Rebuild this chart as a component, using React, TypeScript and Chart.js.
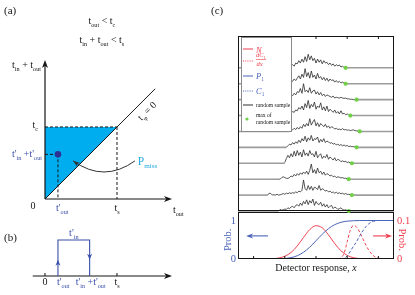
import { useEffect, useRef } from "react";
import { Chart, registerables } from "chart.js";
Chart.register(...registerables);

// ---------------- Panel (a)/(b) schematic values (time, t_s = 1) ----------------
const T_S = 1;
const T_C = 1;
const T_OUT_P = 0.18;
const T_IN_P = 0.44;
const A_X_MIN = -0.25;
const A_X_END = 1.764;
const A_Y_END = 1.93;
const PHI_LINE_END = 1.53;
const B_X_START = -0.17;
const MISS_FROM = [1.25, 0.53];
const MISS_VIA = [0.82, 0.22];
const MISS_TO = [0.39, 0.53];

// ---------------- Panel (c) ----------------
const X_MIN = -5;
const X_MAX = 45;
const X_TICKS = [0, 10, 20, 30, 40];
const SAMPLE_STEP = 0.5;
const SAMPLE_BASE = [9, 8, 7, 6, 5, 4, 3, 2, 1, 0];
const SAMPLE_START = [12, 11.5, 11.5, 12, 11.5, 10.5, 10, 8.5, 4.5, 8];
const S1 = [0.15,0.2,0.1,0.3,0.25,0.45,0.3,0.55,0.35,0.7,0.4,0.85,0.5,0.75,0.45,0.6,0.3,0.55,0.35,0.5,0.25,0.45,0.3,0.35,0.2,0.3,0.15,0.25,0.1,0.2,0.12,0.18,0.05,0.1,0.02,0];
const S2 = [0.1,0.2,0.15,0.3,0.2,0.35,0.5,0.3,0.6,0.4,0.95,0.45,0.7,0.35,0.8,0.4,0.55,0.3,0.65,0.35,0.45,0.25,0.4,0.2,0.35,0.15,0.3,0.2,0.25,0.1,0.2,0.08,0.15,0.05,0.1,0.03,0];
const S3 = [0.2,0.3,0.25,0.4,0.3,0.5,0.45,0.7,0.4,1.0,0.5,0.6,0.45,0.75,0.4,0.55,0.6,0.35,0.5,0.3,0.45,0.25,0.35,0.2,0.3,0.25,0.2,0.15,0.22,0.1,0.15,0.12,0.1,0.15,0.1,0.08,0.1,0.05,0.05,0.02,0.03,0,0,0];
const S4 = [0.15,0.25,0.2,0.35,0.3,0.5,0.4,0.6,0.35,0.75,0.5,0.95,0.45,0.7,0.55,0.85,0.4,0.6,0.5,0.8,0.35,0.55,0.3,0.6,0.25,0.4,0.3,0.2,0.35,0.15,0.25,0.1,0.3,0.1,0.15,0.05,0.1,0.02,0];
const S5 = [0.05,0.15,0.1,0.2,0.12,0.25,0.15,0.3,0.2,0.45,0.3,0.5,0.35,0.8,0.4,0.6,0.75,0.35,0.55,0.3,0.5,0.4,0.3,0.45,0.25,0.35,0.2,0.3,0.25,0.15,0.2,0.12,0.15,0.1,0.18,0.1,0.12,0.08,0.1,0.05,0.08,0.1,0.05,0.04,0.02,0];
const S6 = [0,0.1,0.2,0.15,0.3,0.2,0.35,0.25,0.45,0.3,0.55,0.4,0.7,0.35,0.6,0.45,0.75,0.4,0.55,0.5,0.65,0.3,0.5,0.35,0.55,0.3,0.4,0.35,0.25,0.3,0.2,0.25,0.15,0.2,0.12,0.18,0.1,0.15,0.08,0.12,0.05,0.08,0.04,0.05,0.02,0];
const S7 = [0.05,0.3,0.5,0.35,0.6,0.4,0.75,0.45,0.8,0.5,0.7,0.4,0.85,0.5,0.65,0.45,0.8,0.55,0.6,0.4,0.75,0.35,0.5,0.6,0.3,0.45,0.35,0.55,0.25,0.4,0.3,0.2,0.35,0.15,0.25,0.2,0.1,0.15,0.1,0.12,0.05,0.08,0.02,0];
const S8 = [0,0.1,0.15,0.1,0.05,0.05,0.1,0.2,0.15,0.3,0.2,0.35,0.25,0.4,0.3,0.45,0.35,0.5,0.3,0.55,0.95,0.4,0.6,0.35,0.7,0.4,0.5,0.3,0.45,0.25,0.35,0.3,0.2,0.25,0.15,0.2,0.1,0.15,0.12,0.08,0.1,0.05,0.06,0.02,0];
const S9 = [0,0.12,0.1,0,0.02,0,0.05,0,0.02,0.05,0.1,0.05,0.12,0.08,0.15,0.1,0.15,0.12,0.2,0.15,0.25,0.2,0.3,0.95,0.4,0.3,0.6,0.35,0.55,0.3,0.5,0.45,0.35,0.6,0.3,0.4,0.35,0.25,0.3,0.2,0.25,0.15,0.2,0.12,0.18,0.1,0.15,0.08,0.12,0.05,0.1,0.04,0.05,0.02,0];
const S10 = [0,0.1,0.05,0.08,0.12,0.1,0.2,0.15,0.25,0.3,0.2,0.35,0.4,0.3,0.5,0.35,0.6,0.45,0.7,0.4,0.65,0.5,0.75,0.35,0.6,0.45,0.4,0.55,0.3,0.45,0.25,0.4,0.2,0.3,0.35,0.15,0.25,0.2,0.1,0.15,0.2,0.1,0.05,0.08,0.02,0];
const SAMPLES = [S1, S2, S3, S4, S5, S6, S7, S8, S9, S10];

const N_X = [-5, 2, 6, 8, 10, 12, 14, 16, 18, 20, 22, 24, 26, 28, 30, 32, 34, 36, 40, 45];
const N_PDF = [0, 0, 0.0007, 0.0024, 0.0071, 0.017, 0.0339, 0.056, 0.0765, 0.0865, 0.081, 0.0627, 0.0402, 0.0214, 0.0094, 0.0034, 0.001, 0.0003, 0, 0];
const P1_CDF = [0, 0, 0.001, 0.004, 0.0125, 0.036, 0.085, 0.175, 0.309, 0.474, 0.644, 0.788, 0.892, 0.953, 0.983, 0.9945, 0.9986, 1, 1, 1];
const DC_X = [27, 28, 29, 30, 31, 32, 33, 34, 35, 36, 37, 38, 39, 40, 41];
const DC_PDF = [0, 0.003, 0.015, 0.045, 0.075, 0.087, 0.083, 0.07, 0.053, 0.036, 0.022, 0.012, 0.005, 0.002, 0];
const C1_X = [28, 29, 30, 31, 32, 33, 34, 35, 36, 37, 38, 39, 40, 45];
const C1_CDF = [0, 0.02, 0.08, 0.2, 0.33, 0.45, 0.6, 0.73, 0.84, 0.92, 0.97, 0.99, 1, 1];
const PROB_L_MAX = 1.221;
const PROB_R_MAX = 0.1221;
const ARROW_Y = 0.6;
const LEFT_ARROW = [4.6, -2.4];
const RIGHT_ARROW = [38.3, 44.4];

// ---------------- styling ----------------
const SERIF = '"Liberation Serif", "Times New Roman", serif';
const INK = "#151515";
const FILL_BLUE = "#00aeef";
const DOT_BLUE = "#2e3192";
const TXT_BLUE = "#3a4fa8";
const MISS_C = "#29abe2";
const RED = "#ee3f4e";
const BLUE = "#4a62b8";
const GREEN = "#6fcf45";
const GRAY = "#9c9c9c";

type Seg = { t: string; s?: "sub" | "sup"; i?: boolean };

function rich(ctx: any, segs: Seg[], x: number, y: number, size: number, color: string, align = "left") {
  ctx.save();
  ctx.fillStyle = color;
  ctx.textBaseline = "alphabetic";
  ctx.textAlign = "left";
  const fonts = segs.map((g) => `${g.i ? "italic " : ""}${g.s ? size * 0.62 : size}px ${SERIF}`);
  const widths = segs.map((g, k) => {
    ctx.font = fonts[k];
    return ctx.measureText(g.t).width;
  });
  const total = widths.reduce((a, b) => a + b, 0);
  let cx = align === "left" ? x : align === "center" ? x - total / 2 : x - total;
  segs.forEach((g, k) => {
    ctx.font = fonts[k];
    const dy = g.s === "sub" ? size * 0.28 : g.s === "sup" ? -size * 0.4 : 0;
    ctx.fillText(g.t, cx, y + dy);
    cx += widths[k];
  });
  ctx.restore();
}

function arrowHead(ctx: any, x: number, y: number, angle: number, len: number, wid: number, color: string) {
  ctx.save();
  ctx.translate(x, y);
  ctx.rotate(angle);
  ctx.beginPath();
  ctx.moveTo(0, 0);
  ctx.lineTo(-len, wid / 2);
  ctx.lineTo(-len * 0.72, 0);
  ctx.lineTo(-len, -wid / 2);
  ctx.closePath();
  ctx.fillStyle = color;
  ctx.fill();
  ctx.restore();
}

function seg(ctx: any, x1: number, y1: number, x2: number, y2: number, color: string, w = 1, dash: number[] = []) {
  ctx.save();
  ctx.strokeStyle = color;
  ctx.lineWidth = w;
  ctx.setLineDash(dash);
  ctx.beginPath();
  ctx.moveTo(x1, y1);
  ctx.lineTo(x2, y2);
  ctx.stroke();
  ctx.restore();
}

const ln = (data: any[], style: any = {}) => ({
  data,
  showLine: true,
  pointRadius: 0,
  clip: false,
  borderWidth: 1,
  borderColor: INK,
  tension: 0,
  fill: false,
  ...style,
});

const baseOptions = (scales: any, padding: any) => ({
  responsive: false,
  animation: false,
  events: [],
  layout: { padding },
  plugins: { legend: { display: false }, tooltip: { enabled: false } },
  scales,
});

function configA(): any {
  const sum = T_OUT_P + T_IN_P;
  const dashed = { borderColor: INK, borderDash: [3, 2] };
  return {
    type: "line",
    data: {
      datasets: [
        { data: [{ x: T_OUT_P, y: sum }], showLine: false, pointRadius: 3.3, pointBackgroundColor: DOT_BLUE, pointBorderWidth: 0, clip: false, order: 0 },
        ln([{ x: 0, y: sum }, { x: T_OUT_P, y: sum }], { ...dashed, order: 1 }),
        ln([{ x: T_OUT_P, y: sum }, { x: T_OUT_P, y: 0 }], { ...dashed, order: 1 }),
        ln([{ x: 0, y: T_C }, { x: T_S, y: T_C }], { ...dashed, order: 1 }),
        ln([{ x: T_S, y: T_C }, { x: T_S, y: 0 }], { ...dashed, order: 1 }),
        ln([{ x: 0, y: 0 }, { x: PHI_LINE_END, y: PHI_LINE_END }], { order: 2 }),
        ln([{ x: 0, y: 0 }, { x: A_X_END - 0.05, y: 0 }], { borderWidth: 1.2, order: 2 }),
        ln([{ x: 0, y: 0 }, { x: 0, y: A_Y_END - 0.05 }], { borderWidth: 1.2, order: 2 }),
        ln([{ x: 0, y: 0 }, { x: 0, y: T_C }, { x: T_C, y: T_C }, { x: 0, y: 0 }], { borderWidth: 0, fill: "shape", backgroundColor: FILL_BLUE, order: 9 }),
      ],
    },
    options: baseOptions(
      { x: { type: "linear", display: false, min: A_X_MIN, max: A_X_END }, y: { type: "linear", display: false, min: 0, max: A_Y_END } },
      { left: 27, right: 38, top: 60, bottom: 31 }
    ),
    plugins: [
      {
        id: "decoA",
        afterDatasetsDraw(chart: any) {
          const ctx = chart.ctx;
          const X = (v: number) => chart.scales.x.getPixelForValue(v);
          const Y = (v: number) => chart.scales.y.getPixelForValue(v);
          const sum = T_OUT_P + T_IN_P;
          arrowHead(ctx, X(A_X_END), Y(0), 0, 8, 6, INK);
          arrowHead(ctx, X(0), Y(A_Y_END), -Math.PI / 2, 8, 6, INK);
          // curved arrow from P_miss
          const p0 = [X(MISS_FROM[0]), Y(MISS_FROM[1])];
          const c = [X(MISS_VIA[0]), Y(MISS_VIA[1])];
          const p2 = [X(MISS_TO[0]), Y(MISS_TO[1])];
          ctx.save();
          ctx.strokeStyle = "#333";
          ctx.lineWidth = 1;
          ctx.beginPath();
          ctx.moveTo(p0[0], p0[1]);
          ctx.quadraticCurveTo(c[0], c[1], p2[0], p2[1]);
          ctx.stroke();
          ctx.restore();
          arrowHead(ctx, p2[0], p2[1], Math.atan2(p2[1] - c[1], p2[0] - c[0]), 7, 5, "#333");
          // texts
          rich(ctx, [{ t: "(a)" }], 4, 14, 11, INK);
          rich(ctx, [{ t: "t" }, { t: "out", s: "sub" }, { t: " < t" }, { t: "c", s: "sub" }], X(0.79), 24, 10, INK, "center");
          rich(ctx, [{ t: "t" }, { t: "in", s: "sub" }, { t: " + t" }, { t: "out", s: "sub" }, { t: " < t" }, { t: "s", s: "sub" }], X(0.79), 43, 10, INK, "center");
          rich(ctx, [{ t: "t" }, { t: "in", s: "sub" }, { t: " + t" }, { t: "out", s: "sub" }], X(0) - 4, Y(1.82), 10, INK, "right");
          rich(ctx, [{ t: "t" }, { t: "c", s: "sub" }], X(0) - 7, Y(T_C) + 1, 10, INK, "right");
          rich(ctx, [{ t: "t'" }, { t: "in", s: "sub" }, { t: " +t'" }, { t: "out", s: "sub" }], X(0) - 3, Y(sum) + 3, 10, TXT_BLUE, "right");
          rich(ctx, [{ t: "0" }], X(0) - 12, Y(0) + 10, 10, INK, "center");
          rich(ctx, [{ t: "t'" }, { t: "out", s: "sub" }], X(T_OUT_P) - 2, Y(0) + 12, 10, TXT_BLUE, "left");
          rich(ctx, [{ t: "t" }, { t: "s", s: "sub" }], X(T_S), Y(0) + 12, 10, INK, "center");
          rich(ctx, [{ t: "t" }, { t: "out", s: "sub" }], X(A_X_END) + 1, Y(0) + 14, 10, INK, "left");
          ctx.save();
          ctx.translate(X(1.42), Y(1.22));
          ctx.rotate(-Math.PI / 4);
          rich(ctx, [{ t: "t" }, { t: "φ", s: "sub" }, { t: " = 0" }], 0, 3, 10, INK, "center");
          ctx.restore();
          rich(ctx, [{ t: "P" }, { t: "miss", s: "sub" }], X(1.29), Y(0.47), 11.5, MISS_C, "left");
        },
      },
    ],
  };
}

function configB(): any {
  const sum = T_OUT_P + T_IN_P;
  return {
    type: "line",
    data: {
      datasets: [
        ln([{ x: T_OUT_P, y: 0 }, { x: T_OUT_P, y: 1 }, { x: sum, y: 1 }, { x: sum, y: 0 }], { borderColor: TXT_BLUE, borderWidth: 1.1, order: 0 }),
        ln([{ x: B_X_START, y: 0 }, { x: A_X_END - 0.05, y: 0 }], { borderWidth: 1.2, order: 1 }),
      ],
    },
    options: baseOptions(
      { x: { type: "linear", display: false, min: A_X_MIN, max: A_X_END }, y: { type: "linear", display: false, min: 0, max: 1 } },
      { left: 27, right: 38, top: 15, bottom: 19 }
    ),
    plugins: [
      {
        id: "decoB",
        afterDatasetsDraw(chart: any) {
          const ctx = chart.ctx;
          const X = (v: number) => chart.scales.x.getPixelForValue(v);
          const Y = (v: number) => chart.scales.y.getPixelForValue(v);
          arrowHead(ctx, X(A_X_END), Y(0), 0, 8, 6, INK);
          seg(ctx, X(0), Y(0), X(0), Y(0) - 3, INK);
          seg(ctx, X(T_S), Y(0), X(T_S), Y(0) - 3, INK);
          arrowHead(ctx, X(T_OUT_P), Y(0.45), -Math.PI / 2, 6, 5, TXT_BLUE);
          arrowHead(ctx, X(sum), Y(0.45), Math.PI / 2, 6, 5, TXT_BLUE);
          rich(ctx, [{ t: "(b)" }], 4, 16, 11, INK);
          rich(ctx, [{ t: "t'" }, { t: "in", s: "sub" }], X(T_OUT_P + T_IN_P / 2), Y(1) - 4, 10, TXT_BLUE, "center");
          rich(ctx, [{ t: "0" }], X(0), Y(0) + 9, 10, INK, "center");
          rich(ctx, [{ t: "t'" }, { t: "out", s: "sub" }], X(T_OUT_P) - 1, Y(0) + 9, 10, TXT_BLUE, "left");
          rich(ctx, [{ t: "t'" }, { t: "in", s: "sub" }, { t: " +t'" }, { t: "out", s: "sub" }], X(sum) + 1, Y(0) + 9, 10, TXT_BLUE, "center");
          rich(ctx, [{ t: "t" }, { t: "s", s: "sub" }], X(T_S), Y(0) + 9, 10, INK, "center");
        },
      },
    ],
  };
}

function frame(chart: any) {
  const ctx = chart.ctx;
  const ca = chart.chartArea;
  ctx.save();
  ctx.strokeStyle = INK;
  ctx.lineWidth = 1;
  ctx.strokeRect(Math.round(ca.left) + 0.5, Math.round(ca.top) + 0.5, Math.round(ca.right - ca.left) - 1, Math.round(ca.bottom - ca.top) - 1);
  ctx.restore();
}

function configCTop(): any {
  const datasets: any[] = [];
  datasets.push({
    data: SAMPLES.map((s, i) => ({ x: SAMPLE_START[i] + (s.length - 1) * SAMPLE_STEP, y: SAMPLE_BASE[i] })),
    showLine: false,
    pointRadius: 2.1,
    pointBackgroundColor: GREEN,
    pointBorderWidth: 0,
    clip: false,
    order: 0,
  });
  SAMPLES.forEach((s, i) => {
    datasets.push(ln(s.map((v, j) => ({ x: SAMPLE_START[i] + j * SAMPLE_STEP, y: SAMPLE_BASE[i] + v })), { borderColor: "#2a2a2a", borderWidth: 0.8, order: 1 }));
  });
  SAMPLES.forEach((s, i) => {
    const end = SAMPLE_START[i] + (s.length - 1) * SAMPLE_STEP;
    datasets.push(ln([{ x: X_MIN, y: SAMPLE_BASE[i] }, { x: SAMPLE_START[i], y: SAMPLE_BASE[i] }], { borderColor: GRAY, borderWidth: 1.6, order: 2 }));
    datasets.push(ln([{ x: end, y: SAMPLE_BASE[i] }, { x: X_MAX, y: SAMPLE_BASE[i] }], { borderColor: GRAY, borderWidth: 1.6, order: 2 }));
  });
  return {
    type: "line",
    data: { datasets },
    options: baseOptions(
      { x: { type: "linear", display: false, min: X_MIN, max: X_MAX }, y: { type: "linear", display: false, min: 0, max: 11 } },
      { left: 28, right: 21, top: 36, bottom: 3 }
    ),
    plugins: [
      {
        id: "decoCT",
        afterDatasetsDraw(chart: any) {
          const ctx = chart.ctx;
          const ca = chart.chartArea;
          const X = (v: number) => chart.scales.x.getPixelForValue(v);
          frame(chart);
          X_TICKS.forEach((t) => seg(ctx, X(t), ca.top, X(t), ca.top + 3, INK));
          rich(ctx, [{ t: "(c)" }], 1, 14, 11, INK);
          // legend
          const L = ca.left;
          ctx.save();
          ctx.fillStyle = "#fff";
          ctx.fillRect(L + 3, ca.top + 1, 50, 94);
          ctx.strokeStyle = "#8a8a8a";
          ctx.lineWidth = 1;
          ctx.strokeRect(L + 3.5, ca.top + 1.5, 50, 94);
          ctx.restore();
          const x1 = L + 5, x2 = L + 15, tx = L + 18;
          seg(ctx, x1, 49, x2, 49, RED, 1);
          rich(ctx, [{ t: "N", i: true }], tx, 52.5, 8.5, RED);
          seg(ctx, x1, 61, x2, 61, RED, 1, [1, 1.2]);
          rich(ctx, [{ t: "dC", i: true }, { t: "1", s: "sub" }], tx, 57, 6.5, RED);
          seg(ctx, tx, 59.5, tx + 10, 59.5, RED, 0.6);
          rich(ctx, [{ t: "dx", i: true }], tx + 0.5, 65.5, 6.5, RED);
          seg(ctx, x1, 76, x2, 76, BLUE, 1);
          rich(ctx, [{ t: "P", i: true }, { t: "1", s: "sub" }], tx, 79, 8.5, BLUE);
          seg(ctx, x1, 91, x2, 91, BLUE, 1, [1, 1.2]);
          rich(ctx, [{ t: "C", i: true }, { t: "1", s: "sub" }], tx, 94, 8.5, BLUE);
          seg(ctx, x1, 105, x2, 105, INK, 0.9);
          rich(ctx, [{ t: "random sample" }], tx, 107, 5.6, INK);
          ctx.save();
          ctx.fillStyle = GREEN;
          ctx.beginPath();
          ctx.arc(L + 9, 119, 1.6, 0, Math.PI * 2);
          ctx.fill();
          ctx.restore();
          rich(ctx, [{ t: "max of" }], tx, 117, 5.6, INK);
          rich(ctx, [{ t: "random sample" }], tx, 124, 5.6, INK);
        },
      },
    ],
  };
}

function configCBottom(): any {
  const mono = { cubicInterpolationMode: "monotone", borderWidth: 1 };
  return {
    type: "line",
    data: {
      datasets: [
        ln(N_X.map((x, i) => ({ x, y: N_PDF[i] })), { ...mono, borderColor: RED, yAxisID: "yR", clip: true, order: 1 }),
        ln(DC_X.map((x, i) => ({ x, y: DC_PDF[i] })), { ...mono, borderColor: RED, borderDash: [3, 2], yAxisID: "yR", clip: true, order: 1 }),
        ln(N_X.map((x, i) => ({ x, y: P1_CDF[i] })), { ...mono, borderColor: BLUE, yAxisID: "yL", clip: true, order: 0 }),
        ln(C1_X.map((x, i) => ({ x, y: C1_CDF[i] })), { ...mono, borderColor: BLUE, borderDash: [3, 2], yAxisID: "yL", clip: true, order: 0 }),
      ],
    },
    options: baseOptions(
      {
        x: { type: "linear", display: false, min: X_MIN, max: X_MAX },
        yL: { type: "linear", display: false, position: "left", min: 0, max: PROB_L_MAX },
        yR: { type: "linear", display: false, position: "right", min: 0, max: PROB_R_MAX },
      },
      { left: 28, right: 21, top: 7, bottom: 36 }
    ),
    plugins: [
      {
        id: "decoCB",
        afterDatasetsDraw(chart: any) {
          const ctx = chart.ctx;
          const ca = chart.chartArea;
          const X = (v: number) => chart.scales.x.getPixelForValue(v);
          const YL = (v: number) => chart.scales.yL.getPixelForValue(v);
          const YR = (v: number) => chart.scales.yR.getPixelForValue(v);
          frame(chart);
          X_TICKS.forEach((t) => seg(ctx, X(t), ca.bottom, X(t), ca.bottom - 3, INK));
          // arrows
          seg(ctx, X(LEFT_ARROW[0]), YL(ARROW_Y), X(LEFT_ARROW[1]) + 4, YL(ARROW_Y), BLUE, 1.1);
          arrowHead(ctx, X(LEFT_ARROW[1]), YL(ARROW_Y), Math.PI, 7, 5, BLUE);
          seg(ctx, X(RIGHT_ARROW[0]), YL(ARROW_Y), X(RIGHT_ARROW[1]) - 4, YL(ARROW_Y), RED, 1.1);
          arrowHead(ctx, X(RIGHT_ARROW[1]), YL(ARROW_Y), 0, 7, 5, RED);
          // left axis labels
          rich(ctx, [{ t: "1" }], ca.left - 2, YL(1) + 3.5, 10.5, BLUE, "right");
          rich(ctx, [{ t: "0" }], ca.left - 2, YL(0) + 3, 10.5, BLUE, "right");
          ctx.save();
          ctx.translate(ca.left - 10, YL(0.5));
          ctx.rotate(-Math.PI / 2);
          rich(ctx, [{ t: "Prob." }], 0, 3, 10.5, BLUE, "center");
          ctx.restore();
          // right axis labels
          rich(ctx, [{ t: "0.1" }], ca.right + 3, YR(0.1) + 3.5, 10.5, RED, "left");
          rich(ctx, [{ t: "0" }], ca.right + 3, YR(0) + 3, 10.5, RED, "left");
          ctx.save();
          ctx.translate(ca.right + 8, YR(0.05));
          ctx.rotate(Math.PI / 2);
          rich(ctx, [{ t: "Prob." }], 0, 3, 10.5, RED, "center");
          ctx.restore();
          rich(ctx, [{ t: "Detector response, " }, { t: "x", i: true }], X(20), ca.bottom + 12, 10, INK, "center");
        },
      },
    ],
  };
}

export default function App() {
  const refA = useRef<HTMLCanvasElement>(null);
  const refB = useRef<HTMLCanvasElement>(null);
  const refCT = useRef<HTMLCanvasElement>(null);
  const refCB = useRef<HTMLCanvasElement>(null);
  useEffect(() => {
    const charts = [
      new Chart(refA.current as HTMLCanvasElement, configA()),
      new Chart(refB.current as HTMLCanvasElement, configB()),
      new Chart(refCB.current as HTMLCanvasElement, configCBottom()),
      new Chart(refCT.current as HTMLCanvasElement, configCTop()),
    ];
    return () => charts.forEach((c) => c.destroy());
  }, []);
  const pos = (left: number, top: number, w: number, h: number): any => ({ position: "absolute", left, top, width: w, height: h, display: "block" });
  return (
    <div style={{ position: "absolute", left: 0, top: 0, width: 415, height: 295, background: "#fff", overflow: "hidden" }}>
      <canvas ref={refA} width={210} height={230} style={pos(0, 0, 210, 230)} />
      <canvas ref={refB} width={210} height={70} style={pos(0, 225, 210, 70)} />
      <canvas ref={refCB} width={205} height={90} style={pos(210, 205, 205, 90)} />
      <canvas ref={refCT} width={205} height={215} style={pos(210, 0, 205, 215)} />
    </div>
  );
}
